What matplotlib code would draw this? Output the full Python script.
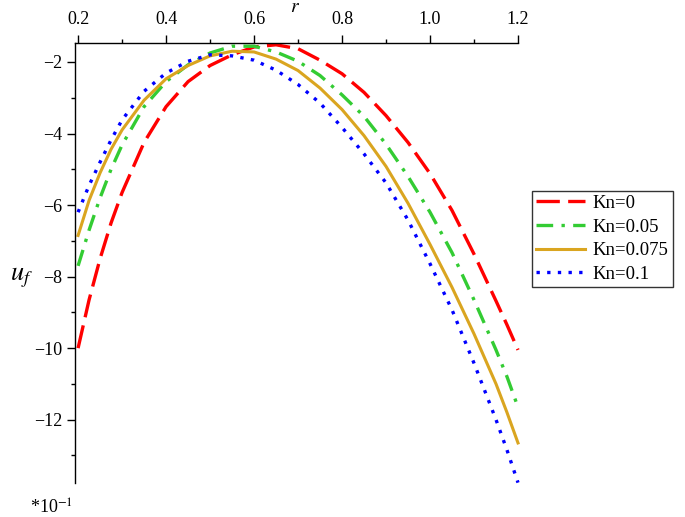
import matplotlib
matplotlib.use("Agg")
import matplotlib.pyplot as plt
from matplotlib.ticker import MultipleLocator

plt.rcParams["font.family"] = ["Liberation Serif", "DejaVu Serif"]
plt.rcParams["mathtext.fontset"] = "stix"

# valores (u_f en unidades de 10^-1)
r = [0.2, 0.225, 0.25, 0.275, 0.3, 0.35, 0.4, 0.45, 0.5, 0.55, 0.6, 0.65,
     0.7, 0.75, 0.8, 0.85, 0.9, 0.95, 1.0, 1.05, 1.1, 1.15, 1.175, 1.2]
kn_0 = [-10.0, -8.65, -7.5, -6.5, -5.65, -4.25, -3.25, -2.55, -2.1, -1.8, -1.58, -1.52,
        -1.63, -1.95, -2.33, -2.85, -3.5, -4.25, -5.12, -6.15, -7.37, -8.68, -9.35, -10.05]
kn_005 = [-7.7, -6.7, -5.8, -5.0, -4.32, -3.25, -2.55, -2.08, -1.75, -1.56, -1.56, -1.72,
          -1.98, -2.38, -2.92, -3.52, -4.3, -5.2, -6.2, -7.33, -8.65, -10.05, -10.8, -11.65]
kn_0075 = [-6.85, -5.87, -5.1, -4.44, -3.9, -3.07, -2.47, -2.1, -1.83, -1.7, -1.72, -1.92,
           -2.24, -2.73, -3.33, -4.06, -4.92, -5.95, -7.1, -8.3, -9.6, -11.0, -11.8, -12.65]
kn_01 = [-6.2, -5.45, -4.8, -4.18, -3.62, -2.82, -2.31, -1.98, -1.8, -1.83, -1.95, -2.23,
         -2.63, -3.15, -3.83, -4.57, -5.38, -6.42, -7.64, -8.93, -10.42, -12.0, -12.85, -13.76]
etiquetas = ["Kn=0", "Kn=0.05", "Kn=0.075", "Kn=0.1"]

fig = plt.figure(figsize=(6.85, 5.17), dpi=100)
ax = fig.add_axes([75/685, 1 - 483/517, (518 - 75)/685, (483 - 43)/517])

ax.plot(r, kn_0, color="#ff0000", lw=2.4, dashes=(7, 2.5), label=etiquetas[0], clip_on=False)
ax.plot(r, kn_005, color="#33cc33", lw=2.4, dashes=(5, 2.5, 1, 2.5), label=etiquetas[1], clip_on=False)
ax.plot(r, kn_0075, color="#daa520", lw=2.2, label=etiquetas[2], clip_on=False)
ax.plot(r, kn_01, color="#0000ff", lw=2.4, dashes=(1, 2.2), label=etiquetas[3], clip_on=False)

ax.set_xlim(0.193, 1.2)
ax.set_ylim(-13.77, -1.47)

ax.spines["right"].set_visible(False)
ax.spines["bottom"].set_visible(False)
ax.spines["top"].set_linewidth(1.0)
ax.spines["left"].set_linewidth(1.0)
ax.xaxis.tick_top()
ax.xaxis.set_minor_locator(MultipleLocator(0.1))
ax.yaxis.set_major_locator(MultipleLocator(2))
ax.yaxis.set_minor_locator(MultipleLocator(1))
ax.set_xticks([0.2, 0.4, 0.6, 0.8, 1.0, 1.2])
ax.set_xticklabels(["0.2", "0.4", "0.6", "0.8", "1.0", "1.2"])
ax.tick_params(which="major", direction="out", length=6, width=1, labelsize=13, pad=3)
ax.tick_params(which="minor", direction="out", length=3, width=1)
ax.tick_params(axis="x", which="major", pad=5)

fig.text(295/685, 1 - 8/517, "$r$", fontsize=14, ha="center", va="center")
fig.text(10/685, 1 - 278/517, "$u_f$", fontsize=19, ha="left", va="center")
fig.text(30/685, 1 - 508/517, "*10$^{-1}$", fontsize=13, ha="left", va="center")

leg = ax.legend(loc="upper left", bbox_to_anchor=(532/685, 1 - 191/517),
                bbox_transform=fig.transFigure, fontsize=13.5, frameon=True,
                fancybox=False, handlelength=2.6, handletextpad=0.45,
                borderpad=0.2, labelspacing=0.35, borderaxespad=0)
leg.get_frame().set_edgecolor("black")
leg.get_frame().set_linewidth(1.0)

fig.savefig("out.png", dpi=100)
